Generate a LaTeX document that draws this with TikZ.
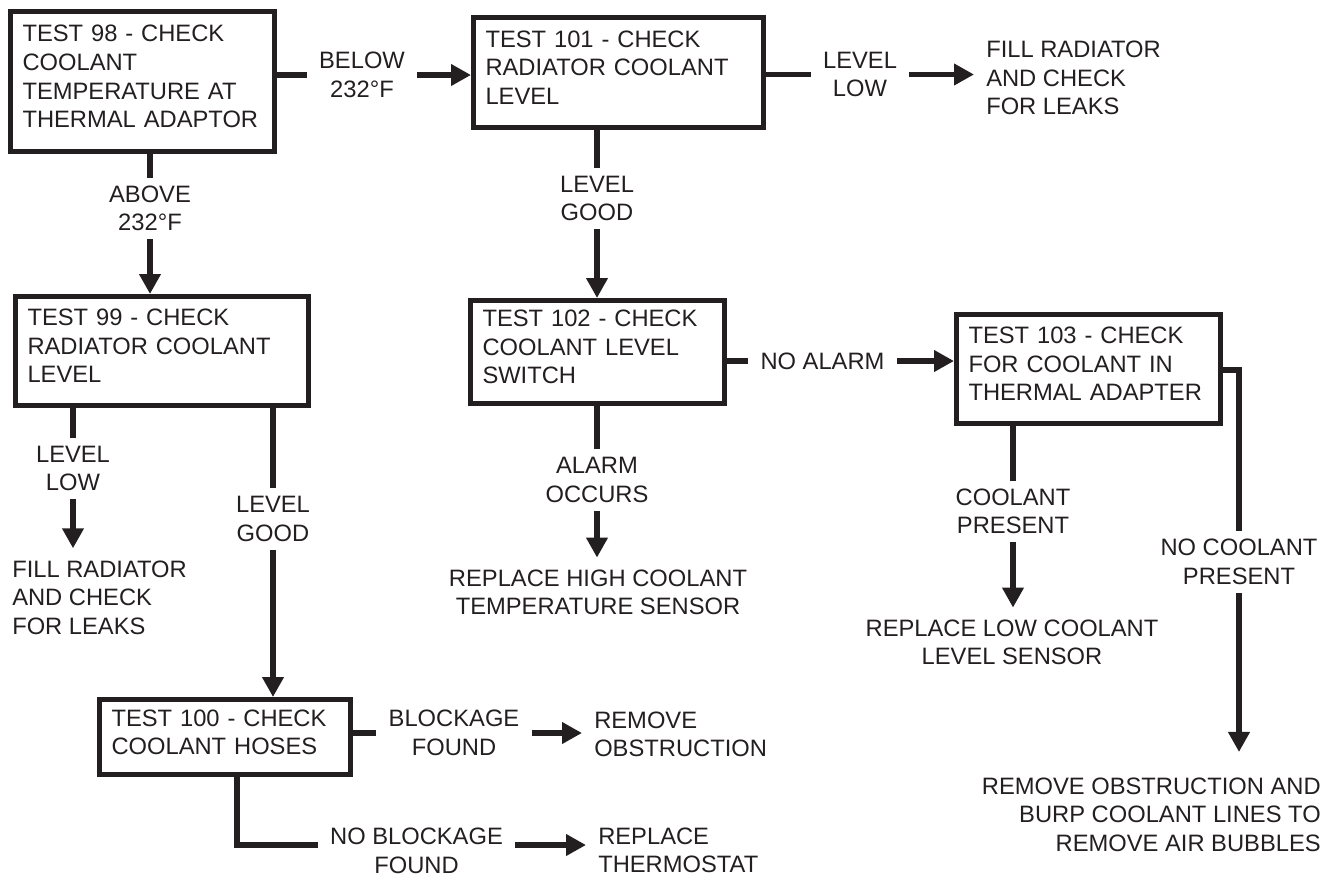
\documentclass[tikz,border=0pt]{standalone}
\usepackage{fontspec}
\setmainfont{Liberation Sans}
\usetikzlibrary{arrows.meta, positioning}
\definecolor{ink}{HTML}{231F20}

\begin{document}
\begin{tikzpicture}[
    x=0.75pt, y=-0.75pt,
    every node/.style = {font=\fontsize{17.8pt}{21.4pt}\selectfont, text=ink},
    testbox/.style = {rectangle, draw=ink, line width=3.75pt, align=left,
                      inner xsep=9pt, inner ysep=0pt,
                      execute at end node={\rule[-7.5pt]{0pt}{0pt}}},
    outcome/.style = {align=center, inner xsep=9pt, inner ysep=6pt},
    remedy/.style = {inner sep=9pt},
    wire/.style = {line width=4pt, draw=ink},
    arrow/.style = {-{Triangle[length=15pt, width=15.5pt]}, line width=4pt, draw=ink}
  ]
    \useasboundingbox (0,0) rectangle (1327,879);

    % Tests
    \node[testbox, minimum width=198pt, minimum height=105pt, text width=180pt] (t98) at (142.5,81.5)
      {TEST 98 - CHECK\\COOLANT\\TEMPERATURE AT\\THERMAL ADAPTOR};
    \node[testbox, minimum width=217.5pt, minimum height=82.5pt, text width=199.5pt] (t101) at (618.5,72.5)
      {TEST 101 - CHECK\\RADIATOR COOLANT\\LEVEL};
    \node[testbox, minimum width=219.75pt, minimum height=81.75pt, text width=201.75pt] (t99) at (162,351)
      {TEST 99 - CHECK\\RADIATOR COOLANT\\LEVEL};
    \node[testbox, minimum width=190.5pt, minimum height=77.25pt, text width=172.5pt] (t102) at (597.5,352)
      {TEST 102 - CHECK\\COOLANT LEVEL\\SWITCH};
    \node[testbox, minimum width=198pt, minimum height=81.75pt, text width=180pt] (t103) at (1088.5,369)
      {TEST 103 - CHECK\\FOR COOLANT IN\\THERMAL ADAPTER};
    \node[testbox, minimum width=188.25pt, minimum height=56.25pt, text width=170.25pt] (t100) at (225,737)
      {TEST 100 - CHECK\\COOLANT HOSES};

    % Outcomes
    \node[outcome] (lBelow) at (362,75) {BELOW\\232°F};
    \node[outcome] (lAbove) at (150,208.5) {ABOVE\\232°F};
    \node[outcome] (lLow101) at (860,74.5) {LEVEL\\LOW};
    \node[outcome] (lGood101) at (597,198.5) {LEVEL\\GOOD};
    \node[outcome] (lLow99) at (73,468.5) {LEVEL\\LOW};
    \node[outcome] (lGood99) at (273,519) {LEVEL\\GOOD};
    \node[outcome] (lAlarm) at (597,480) {ALARM\\OCCURS};
    \node[outcome] (lNoAlarm) at (822.5,361) {NO ALARM};
    \node[outcome] (lCoolant) at (1013,511.5) {COOLANT\\PRESENT};
    \node[outcome] (lNoCoolant) at (1239,562) {NO COOLANT\\PRESENT};
    \node[outcome] (lBlockage) at (454,733) {BLOCKAGE\\FOUND};
    \node[outcome] (lNoBlockage) at (416.5,851) {NO BLOCKAGE\\FOUND};

    % Remedies
    \node[remedy, align=left, anchor=west] (rFill101) at (974,78) {FILL RADIATOR\\AND CHECK\\FOR LEAKS};
    \node[remedy, align=left, anchor=west] (rFill99) at (0,597.5) {FILL RADIATOR\\AND CHECK\\FOR LEAKS};
    \node[remedy, align=center] (rHigh) at (598,592.5) {REPLACE HIGH COOLANT\\TEMPERATURE SENSOR};
    \node[remedy, align=center] (rLow) at (1012,642.5) {REPLACE LOW COOLANT\\LEVEL SENSOR};
    \node[remedy, align=right, anchor=east] (rBurp) at (1333,814.5) {REMOVE OBSTRUCTION AND\\BURP COOLANT LINES TO\\REMOVE AIR BUBBLES};
    \node[remedy, align=left, anchor=west] (rObstr) at (582,734.5) {REMOVE\\OBSTRUCTION};
    \node[remedy, align=left, anchor=west] (rThermo) at (586,850.5) {REPLACE\\THERMOSTAT};

    % Connectors
    \draw[wire] (lBelow -| t98.east) -- (lBelow);
    \draw[arrow] (lBelow) -- (lBelow -| t101.west);
    \draw[wire] (lLow101 -| t101.east) -- (lLow101);
    \draw[arrow] (lLow101) -- (lLow101 -| rFill101.west);

    \draw[wire] (lAbove |- t98.south) -- (lAbove);
    \draw[arrow] (lAbove) -- (lAbove |- t99.north);
    \draw[wire] (lGood101 |- t101.south) -- (lGood101);
    \draw[arrow] (lGood101) -- (lGood101 |- t102.north);

    \draw[wire] (lLow99 |- t99.south) -- (lLow99);
    \draw[arrow] (lLow99) -- (lLow99 |- rFill99.north);
    \draw[wire] (lGood99 |- t99.south) -- (lGood99);
    \draw[arrow] (lGood99) -- (lGood99 |- t100.north);

    \draw[wire] (lAlarm |- t102.south) -- (lAlarm);
    \draw[arrow] (lAlarm) -- (lAlarm |- rHigh.north);
    \draw[wire] (lNoAlarm -| t102.east) -- (lNoAlarm);
    \draw[arrow] (lNoAlarm) -- (lNoAlarm -| t103.west);

    \draw[wire] (lCoolant |- t103.south) -- (lCoolant);
    \draw[arrow] (lCoolant) -- (lCoolant |- rLow.north);
    \coordinate (bend) at (1239,370);
    \draw[wire] (bend -| t103.east) -- (bend) -- (lNoCoolant);
    \draw[arrow, shorten >=10pt] (lNoCoolant) -- (lNoCoolant |- rBurp.north);

    \draw[wire] (lBlockage -| t100.east) -- (lBlockage);
    \draw[arrow] (lBlockage) -- (lBlockage -| rObstr.west);
    \coordinate (elbow) at (237,845);
    \draw[wire] (elbow |- t100.south) -- (elbow) -- (elbow -| lNoBlockage.west);
    \draw[arrow] (elbow -| lNoBlockage.east) -- (elbow -| rThermo.west);

  \end{tikzpicture}
\end{document}
